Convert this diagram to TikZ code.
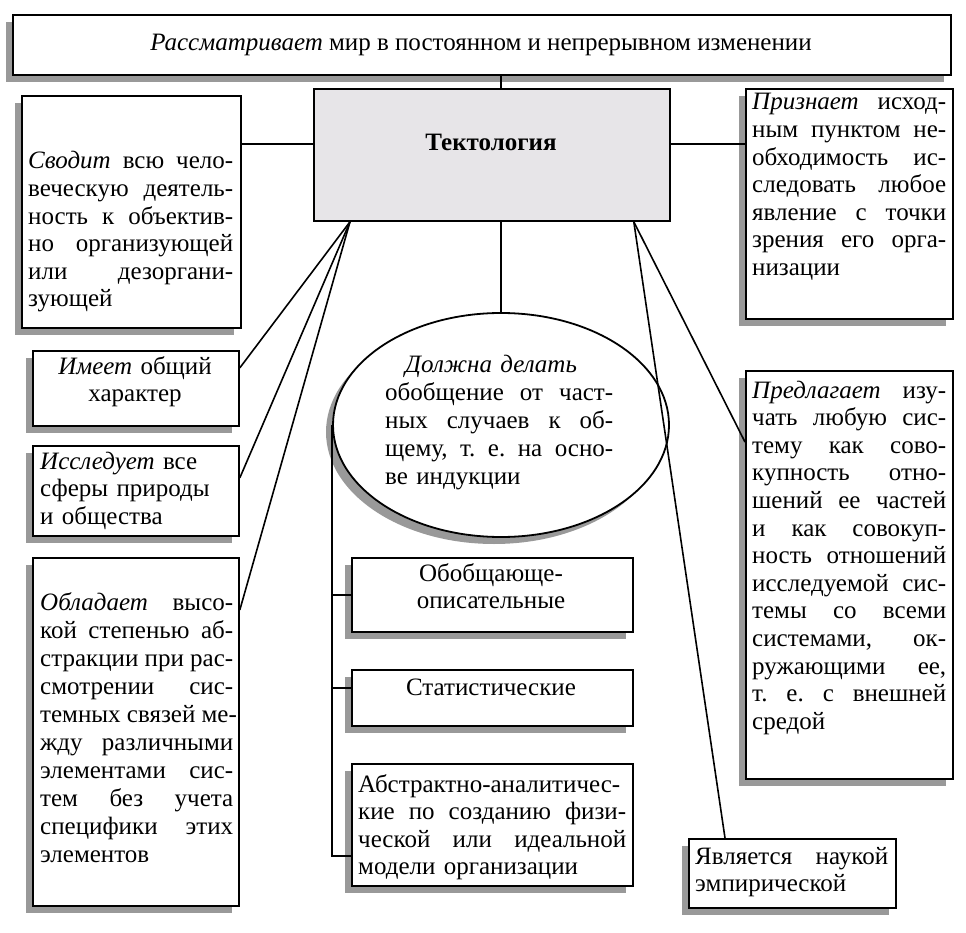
\documentclass[tikz,border=0pt]{standalone}
\usepackage{fontspec}
\setmainfont{Liberation Serif}
\usetikzlibrary{shadows,shapes.geometric,calc}
\definecolor{tekfill}{RGB}{231,229,232}
\newcommand\jl[1]{\leavevmode\hbox to \hsize{\frenchspacing\spaceskip=0.25em plus 1fil\relax #1}\\}
\begin{document}
\begin{tikzpicture}[x=1pt,y=-1pt,
  font=\fontsize{25}{27.6}\selectfont,
  box/.style={draw, line width=1.8pt, fill=white, rectangle, inner sep=0pt, anchor=north west,
    general shadow={fill=black!40, shadow xshift=-7pt, shadow yshift=-7pt}},
  txt/.style={inner sep=0pt, anchor=base west, align=left},
  ctxt/.style={inner sep=0pt, anchor=base, align=center},
  conn/.style={line width=1.6pt}]
\useasboundingbox (0,0) rectangle (966,933);

% boxes
\node[box, minimum width=938pt, minimum height=60pt] (top) at (12,14) {};
\node[draw, line width=1.8pt, fill=tekfill, rectangle, inner sep=0pt, anchor=north west,
  minimum width=356pt, minimum height=132pt] (tekt) at (313,88) {};
\node[box, minimum width=219pt, minimum height=232pt] (svodit) at (21,95) {};
\node[box, minimum width=207pt, minimum height=230pt] (priz) at (745,88) {};
\node[box, minimum width=206pt, minimum height=75pt] (imeet) at (32,350) {};
\node[box, minimum width=206pt, minimum height=90pt] (issl) at (32,445) {};
\node[box, minimum width=206pt, minimum height=348pt] (obl) at (32,557) {};
\node[box, ellipse, anchor=center, minimum width=336pt, minimum height=224pt] (ell) at (501,425) {};
\node[box, minimum width=281pt, minimum height=74pt] (obob) at (351,557) {};
\node[box, minimum width=281pt, minimum height=56pt] (stat) at (351,669) {};
\node[box, minimum width=281pt, minimum height=122pt] (abs) at (351,763) {};
\node[box, minimum width=207pt, minimum height=408pt] (pred) at (745,370) {};
\node[box, minimum width=207pt, minimum height=69pt] (yav) at (688,838) {};

% texts
\node[ctxt] (ttop) at (481,51) {\textit{Рассматривает} мир в постоянном и непрерывном изменении};
\node[ctxt] (ttekt) at (491,151) {\textbf{Тектология}};
\node[txt, text width=205pt] (tsvodit) at (28,169) {%
\jl{\textit{Сводит} всю чело-}
\jl{веческую деятель-}
\jl{ность к объектив-}
\jl{но организующей}
\jl{или дезоргани-}
зующей};
\node[txt, text width=194pt] (tpriz) at (752,110) {%
\jl{\textit{Признает} исход-}
\jl{ным пунктом не-}
\jl{обходимость ис-}
\jl{следовать любое}
\jl{явление с точки}
\jl{зрения его орга-}
низации};
\node[ctxt, text width=200pt] (timeet) at (135,374) {\textit{Имеет} общий\\характер};
\node[txt, text width=195pt] (tissl) at (40,469) {\textit{Исследует} все\\сферы природы\\и общества};
\node[txt, text width=193pt, font=\fontsize{25}{28}\selectfont] (tobl) at (40,610) {%
\jl{\textit{Обладает} высо-}
\jl{кой степенью аб-}
\jl{стракции при рас-}
\jl{смотрении сис-}
\jl{темных связей ме-}
\jl{жду различными}
\jl{элементами сис-}
\jl{тем без учета}
\jl{специфики этих}
элементов};
\node[txt, text width=228pt, font=\fontsize{25}{28}\selectfont] (tell) at (385,372) {%
\hspace*{20pt}\textit{Должна делать}\\
\jl{обобщение от част-}
\jl{ных случаев к об-}
\jl{щему, т. е. на осно-}
ве индукции};
\node[ctxt, text width=270pt] (tobob) at (491,581) {Обобщающе-\\описательные};
\node[ctxt, text width=270pt] (tstat) at (491,695) {Статистические};
\node[txt, text width=268pt] (tabs) at (358,792) {%
Абстрактно-аналитичес-\\
\jl{кие по созданию физи-}
\jl{ческой или идеальной}
модели организации};
\node[txt, text width=194pt] (tpred) at (752,398) {%
\jl{\textit{Предлагает} изу-}
\jl{чать любую сис-}
\jl{тему как сово-}
\jl{купность отно-}
\jl{шений ее частей}
\jl{и как совокуп-}
\jl{ность отношений}
\jl{исследуемой сис-}
\jl{темы со всеми}
\jl{системами, ок-}
\jl{ружающими ее,}
\jl{т. е. с внешней}
средой};
\node[txt, text width=193pt] (tyav) at (695,864) {%
\jl{Является наукой}
эмпирической};

% connectors
\draw[conn] (ell.north |- top.south) -- (ell.north |- tekt.north);
\coordinate (hl) at ([yshift=11pt]tekt.west);
\coordinate (hr) at ([yshift=11pt]tekt.east);
\draw[conn] (hl) -- (hl -| svodit.east);
\draw[conn] (hr) -- (hr -| priz.west);
\coordinate (fl) at ([xshift=37pt]tekt.south west);
\coordinate (fr) at ([xshift=-37pt]tekt.south east);
\draw[conn] (fl) -- ([yshift=20.5pt]imeet.east);
\draw[conn] (fl) -- ([yshift=13pt]issl.east);
\draw[conn] (fl) -- ([yshift=-53pt]obl.north east);
\draw[conn] (fr) -- ([yshift=-72pt]pred.north west);
\draw[conn] (fr) -- ([xshift=37pt]yav.north west);
\draw[conn] (ell.north |- tekt.south) -- (ell.north);
\coordinate (t2) at ([yshift=10pt]stat.west);
\coordinate (t3) at ([yshift=-31pt]abs.west);
\draw[conn] (ell.west) -- (ell.west |- t3) -- (t3);
\draw[conn] (ell.west |- obob.west) -- (obob.west);
\draw[conn] (ell.west |- t2) -- (t2);
\end{tikzpicture}
\end{document}
